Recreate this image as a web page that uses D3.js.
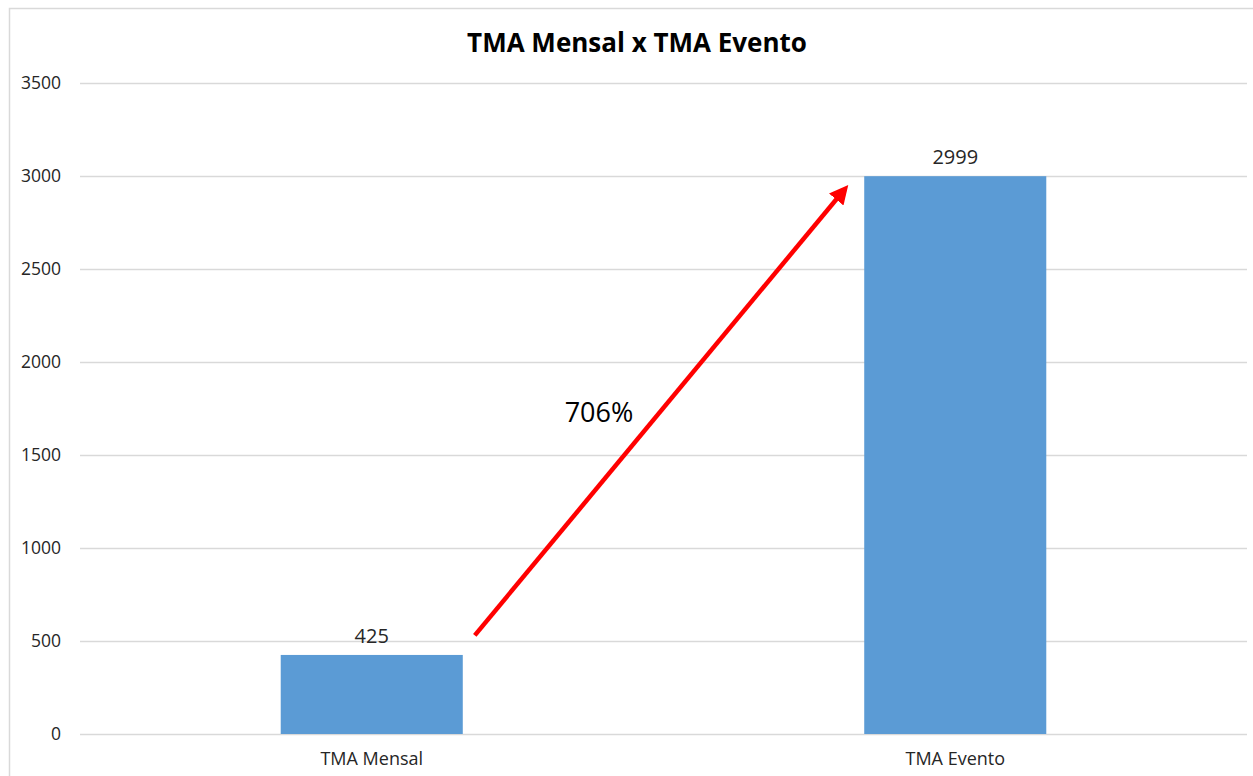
<!DOCTYPE html>
<html>
<head>
<meta charset="utf-8">
<script src="https://cdn.jsdelivr.net/npm/d3@7"></script>
<style>
  body { margin: 0; background: #fff; }
  text { font-family: "Open Sans", sans-serif; fill: #262626; }
</style>
</head>
<body>
<div id="chart"></div>
<script>
// chart data
const categories = ["TMA Mensal", "TMA Evento"]
const values = [425, 2999]
const yTicks = [0, 500, 1000, 1500, 2000, 2500, 3000, 3500]
const title = "TMA Mensal x TMA Evento"
// growth arrow: from just right of the first bar to just left of the second
const arrowFrom = ["TMA Mensal", 530]
const arrowTo = ["TMA Evento", 2945]
const arrowLabel = "706%"

document.addEventListener("DOMContentLoaded", () => {

    const width = 1253
    const height = 776
    const margin = { top: 83, right: 6, bottom: 42, left: 80 }

    const svg = d3.select("#chart").append("svg")
        .attr("width", width)
        .attr("height", height)

    // outer frame
    svg.append("rect")
        .attr("x", 9.5).attr("y", 8.5)
        .attr("width", width + 10).attr("height", height + 10)
        .attr("fill", "none")
        .attr("stroke", "#d9d9d9")
        .attr("stroke-width", 1.5)

    const x = d3.scaleBand()
        .domain(categories)
        .range([margin.left, width - margin.right])

    const y = d3.scaleLinear()
        .domain([0, 3500])
        .range([height - margin.bottom, margin.top])

    const barW = x.bandwidth() * 0.312

    // gridlines
    svg.append("g")
        .selectAll("line")
        .data(yTicks)
        .enter()
        .append("line")
        .attr("x1", margin.left)
        .attr("x2", width - margin.right)
        .attr("y1", d => Math.round(y(d)) + 0.5)
        .attr("y2", d => Math.round(y(d)) + 0.5)
        .attr("stroke", "#d9d9d9")
        .attr("stroke-width", 1.3)

    // y axis labels
    const yAxis = svg.append("g")
        .attr("transform", `translate(${margin.left}, 0)`)
        .call(d3.axisLeft(y).tickValues(yTicks).tickFormat(d3.format("d")).tickSize(0).tickPadding(19))
    yAxis.select(".domain").remove()
    yAxis.selectAll("text")
        .attr("font-family", "Open Sans, sans-serif")
        .attr("font-size", 17.5)
        .attr("fill", "#262626")

    // x axis labels
    const xAxis = svg.append("g")
        .attr("transform", `translate(0, ${y(0)})`)
        .call(d3.axisBottom(x).tickSize(0).tickPadding(18))
    xAxis.select(".domain").remove()
    xAxis.selectAll("text")
        .attr("font-family", "Open Sans, sans-serif")
        .attr("font-size", 18)
        .attr("fill", "#262626")

    // bars
    svg.selectAll(".bar")
        .data(values)
        .enter()
        .append("rect")
        .attr("class", "bar")
        .attr("x", (d, i) => x(categories[i]) + x.bandwidth() / 2 - barW / 2)
        .attr("y", d => y(d))
        .attr("width", barW)
        .attr("height", d => y(0) - y(d))
        .attr("fill", "#5b9bd5")

    // value labels
    svg.selectAll(".val")
        .data(values)
        .enter()
        .append("text")
        .attr("class", "val")
        .attr("x", (d, i) => x(categories[i]) + x.bandwidth() / 2)
        .attr("y", d => y(d) - 12)
        .attr("text-anchor", "middle")
        .attr("font-size", 20)
        .text(d => d)

    // title
    svg.append("text")
        .attr("x", 637)
        .attr("y", 52)
        .attr("text-anchor", "middle")
        .attr("font-size", 26)
        .attr("font-weight", "bold")
        .style("fill", "#000")
        .text(title)

    // arrow
    svg.append("defs").append("marker")
        .attr("id", "head")
        .attr("viewBox", "0 0 10 10")
        .attr("refX", 5).attr("refY", 5)
        .attr("markerWidth", 4.2).attr("markerHeight", 4.2)
        .attr("orient", "auto")
        .append("path")
        .attr("d", "M0,0 L10,5 L0,10 z")
        .attr("fill", "#ff0000")

    const cx = c => x(c) + x.bandwidth() / 2
    const x1 = cx(arrowFrom[0]) + barW / 2 + 12
    const y1 = y(arrowFrom[1])
    const x2 = cx(arrowTo[0]) - barW / 2 - 22
    const y2 = y(arrowTo[1]) + 6

    svg.append("line")
        .attr("x1", x1).attr("y1", y1)
        .attr("x2", x2).attr("y2", y2)
        .attr("stroke", "#ff0000")
        .attr("stroke-width", 4.5)
        .attr("marker-end", "url(#head)")

    svg.append("text")
        .attr("x", 599)
        .attr("y", 422)
        .attr("text-anchor", "middle")
        .attr("font-size", 27)
        .style("fill", "#000")
        .text(arrowLabel)
})
</script>
</body>
</html>
